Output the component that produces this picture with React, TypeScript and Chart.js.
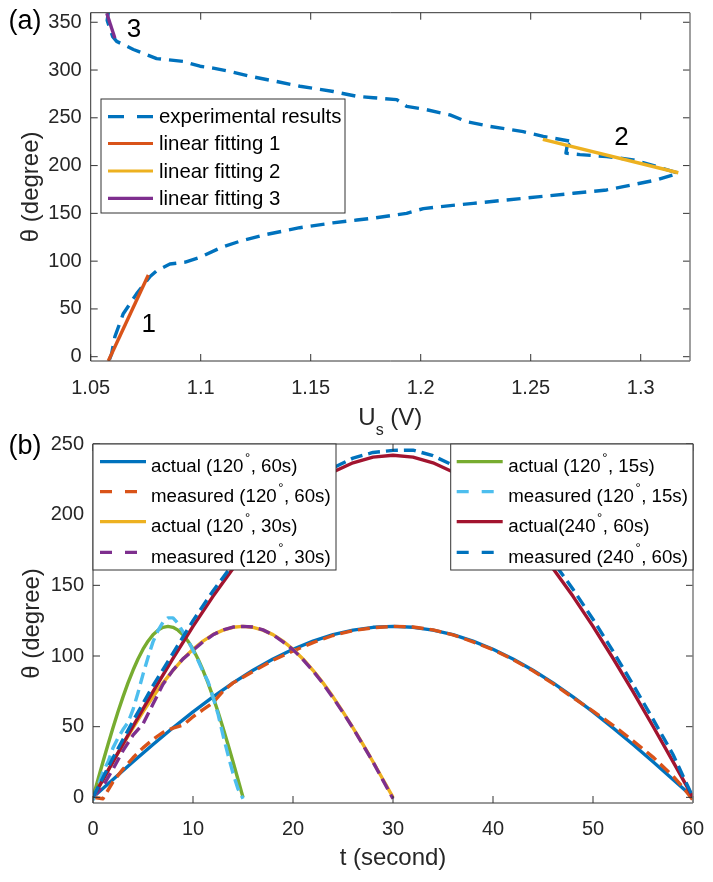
import React, { useEffect, useRef } from 'react';
import { Chart, registerables } from 'chart.js';

Chart.register(...registerables);

const FONT = '"Liberation Sans", Arial, Helvetica, sans-serif';
const AXIS_COLOR = '#333333';
const AXIS_RIGHT_COLOR = '#7f7f7f';
const TEXT_COLOR = '#262626';

const BLUE = '#0072BD';
const ORANGE = '#D95319';
const YELLOW = '#EDB120';
const PURPLE = '#7E2F8E';
const GREEN = '#77AC30';
const LIGHTBLUE = '#4DBEEE';
const DARKRED = '#A2142F';

// ---------------- Panel (a) data ----------------
const aXTicks = [1.05, 1.1, 1.15, 1.2, 1.25, 1.3];
const aXTickLabels = ['1.05', '1.1', '1.15', '1.2', '1.25', '1.3'];
const aYTicks = [0, 50, 100, 150, 200, 250, 300, 350];
const aYTickLabels = ['0', '50', '100', '150', '200', '250', '300', '350'];

const expU = [
  1.0585, 1.0595, 1.061, 1.0648, 1.0709, 1.077, 1.08, 1.086, 1.093, 1.0997,
  1.109, 1.118, 1.13, 1.145, 1.16, 1.171, 1.1785, 1.1936, 1.2012, 1.2088,
  1.2239, 1.2391, 1.2542, 1.2694, 1.2845, 1.2921, 1.3073, 1.3171, 1.3073, 1.2966,
  1.2845, 1.2724, 1.266, 1.2665, 1.2694, 1.2557, 1.2466, 1.2315, 1.2209, 1.2133,
  1.2027, 1.1936, 1.1891, 1.1785, 1.1709, 1.1603, 1.1451, 1.1345, 1.1224, 1.1133,
  1.1057, 1.0997, 1.0921, 1.08, 1.0694, 1.0618, 1.06, 1.0585, 1.0575, 1.058,
];
const expTheta = [
  -3, 3, 21, 45, 66, 84, 90, 97, 99, 104,
  114, 121, 128, 135, 140, 143, 145, 150, 155, 157,
  160.5, 164, 167.5, 171, 174.5, 178, 185, 192, 199, 206,
  209.5, 211.5, 213, 220, 225, 230.5, 235.5, 241, 246, 253,
  258.5, 262, 269, 271, 272.5, 277.5, 283, 288, 293.5, 298.5,
  302, 304, 309, 312, 321.5, 330, 335, 345, 352, 360,
];
const fit1U = [1.058, 1.0762];
const fit1Theta = [-4.5, 85.5];
const fit2U = [1.2555, 1.3171];
const fit2Theta = [227.5, 192.5];
const fit3U = [1.061, 1.0573];
const fit3Theta = [333.2, 359.4];

const aSeriesLabels = ['experimental results', 'linear fitting 1', 'linear fitting 2', 'linear fitting 3'];
const aNoteText = ['1', '2', '3'];
const aNoteU = [1.0764, 1.2913, 1.0697];
const aNoteTheta = [33.2, 228.9, 341.9];

// ---------------- Panel (b) data ----------------
const bXTicks = [0, 10, 20, 30, 40, 50, 60];
const bXTickLabels = ['0', '10', '20', '30', '40', '50', '60'];
const bYTicks = [0, 50, 100, 150, 200, 250];
const bYTickLabels = ['0', '50', '100', '150', '200', '250'];

const t60 = [0, 2, 4, 6, 8, 10, 12, 14, 16, 18, 20, 22, 24, 26, 28, 30, 32, 34, 36, 38, 40, 42, 44, 46, 48, 50, 52, 54, 56, 58, 60];
const actual60 = [0, 12.6, 25.2, 37.4, 49.2, 60.5, 71.1, 81, 89.9, 97.9, 104.8, 110.5, 115.1, 118.3, 120.3, 121, 120.3, 118.3, 115.1, 110.5, 104.8, 97.9, 89.9, 81, 71.1, 60.5, 49.2, 37.4, 25.2, 12.6, 0];

const measured60T = [0, 1, 2, 3, 4, 5, 6, 7, 8, 9, 10, 11, 12, 13, 14, 16, 18, 20, 22, 24, 26, 28, 30, 32, 34, 36, 38, 40, 42, 44, 46, 48, 50, 52, 54, 56, 58, 59, 60];
const measured60 = [0, -1, 11, 20, 28, 35, 41, 46, 49, 51, 57, 62, 67, 75, 81, 89, 97, 103.5, 109.5, 114.5, 118, 120, 121, 120.5, 118.5, 115, 110, 104.5, 97.5, 89.5, 80.5, 70.5, 61, 51, 40, 28.5, 15, 7, -2];

const t30 = [0, 1, 2, 3, 4, 5, 6, 7, 8, 9, 10, 11, 12, 13, 14, 15, 16, 17, 18, 19, 20, 21, 22, 23, 24, 25, 26, 27, 28, 29, 30];
const actual30 = [0, 12.6, 25.2, 37.4, 49.2, 60.5, 71.1, 81, 89.9, 97.9, 104.8, 110.5, 115.1, 118.3, 120.3, 121, 120.3, 118.3, 115.1, 110.5, 104.8, 97.9, 89.9, 81, 71.1, 60.5, 49.2, 37.4, 25.2, 12.6, 0];
const measured30 = [0, 8, 20, 33, 44, 52, 66, 80, 90, 98, 104, 110, 115, 118.5, 120.5, 121, 120.5, 118.5, 115, 110, 104.5, 97.5, 89.5, 80.5, 70.5, 60, 49, 37, 25, 12, -1];

const t15 = [0, 0.5, 1, 1.5, 2, 2.5, 3, 3.5, 4, 4.5, 5, 5.5, 6, 6.5, 7, 7.5, 8, 8.5, 9, 9.5, 10, 10.5, 11, 11.5, 12, 12.5, 13, 13.5, 14, 14.5, 15];
const actual15 = [0, 12.6, 25.2, 37.4, 49.2, 60.5, 71.1, 81, 89.9, 97.9, 104.8, 110.5, 115.1, 118.3, 120.3, 121, 120.3, 118.3, 115.1, 110.5, 104.8, 97.9, 89.9, 81, 71.1, 60.5, 49.2, 37.4, 25.2, 12.6, 0];
const measured15 = [-2, 8, 18, 25, 35, 42, 48, 53, 62, 74, 87, 99, 110, 118, 124, 127, 127, 123, 117, 111, 104, 97, 89, 82, 71, 59, 44, 30, 17, 6, -1];

const actual240 = [0, 25.3, 50.3, 74.8, 98.4, 121, 142.2, 161.9, 179.8, 195.8, 209.6, 221.1, 230.2, 236.7, 240.7, 242, 240.7, 236.7, 230.2, 221.1, 209.6, 195.8, 179.8, 161.9, 142.2, 121, 98.4, 74.8, 50.3, 25.3, 0];
const measured240 = [0, 28, 54, 79, 102, 125, 146, 165, 182, 198, 212, 224, 233, 240, 244, 245.5, 245.7, 241.7, 235, 226, 214.6, 200.8, 184.9, 166.9, 147.2, 126, 103.4, 79.8, 55.3, 30.3, 0];

const bSeriesLabels = [
  'actual (120°, 60s)',
  'measured (120°, 60s)',
  'actual (120°, 30s)',
  'measured (120°, 30s)',
  'actual (120°, 15s)',
  'measured (120°, 15s)',
  'actual(240°, 60s)',
  'measured (240°, 60s)',
];

const pts = (xs: number[], ys: number[]) => xs.map((x, i) => ({ x, y: ys[i] }));

function lineDs(label: string, xs: number[], ys: number[], color: string, dash: number[], order: number) {
  return {
    label,
    data: pts(xs, ys),
    borderColor: color,
    backgroundColor: color,
    borderWidth: 3.4,
    borderDash: dash,
    borderCapStyle: 'butt',
    borderJoinStyle: 'round',
    pointRadius: 0,
    fill: false,
    tension: 0,
    order,
  };
}

function drawLabelWithDegree(ctx: any, text: string, x: number, y: number, size: number) {
  const parts = text.split('°');
  ctx.textAlign = 'left';
  ctx.textBaseline = 'middle';
  let cx = x;
  parts.forEach((p, i) => {
    ctx.font = `${size}px ${FONT}`;
    ctx.fillText(p, cx, y);
    cx += ctx.measureText(p).width;
    if (i < parts.length - 1) {
      cx += 1.5;
      ctx.font = `${Math.round(size * 0.72)}px ${FONT}`;
      ctx.fillText('°', cx, y - 9);
      cx += ctx.measureText('°').width + 0.5;
    }
  });
}

function drawLegend(ctx: any, chart: any, lg: any) {
  const [x0, y0, x1, y1] = lg.box;
  ctx.save();
  ctx.fillStyle = '#ffffff';
  ctx.fillRect(x0, y0, x1 - x0, y1 - y0);
  ctx.strokeStyle = AXIS_COLOR;
  ctx.lineWidth = 1;
  ctx.setLineDash([]);
  ctx.strokeRect(x0, y0, x1 - x0, y1 - y0);
  lg.datasets.forEach((di: number, r: number) => {
    const ds = chart.data.datasets[di];
    const y = lg.rows[r];
    ctx.strokeStyle = ds.borderColor;
    ctx.lineWidth = 3.2;
    ctx.lineCap = 'butt';
    ctx.setLineDash(ds.borderDash && ds.borderDash.length ? lg.dash : []);
    ctx.beginPath();
    ctx.moveTo(lg.sx[0], y);
    ctx.lineTo(lg.sx[1], y);
    ctx.stroke();
    ctx.setLineDash([]);
    ctx.fillStyle = '#000000';
    drawLabelWithDegree(ctx, ds.label, lg.tx, y + lg.textDY, lg.font);
  });
  ctx.restore();
}

function makeFramePlugin(cfg: any) {
  return {
    id: 'matlabFrame',
    afterDraw(chart: any) {
      const ctx = chart.ctx;
      const { left, right, top, bottom } = chart.chartArea;
      const xs = chart.scales.x;
      const ys = chart.scales.y;
      const TL = 7;
      ctx.save();
      ctx.strokeStyle = AXIS_COLOR;
      ctx.lineWidth = 1;
      ctx.setLineDash([]);
      ctx.beginPath();
      cfg.xTicks.forEach((v: number) => {
        const p = xs.getPixelForValue(v);
        ctx.moveTo(p, bottom);
        ctx.lineTo(p, bottom - TL);
        ctx.moveTo(p, top);
        ctx.lineTo(p, top + TL);
      });
      cfg.yTicks.forEach((v: number) => {
        const p = ys.getPixelForValue(v);
        ctx.moveTo(left, p);
        ctx.lineTo(left + TL, p);
        ctx.moveTo(right, p);
        ctx.lineTo(right - TL, p);
      });
      ctx.moveTo(left, top);
      ctx.lineTo(right, top);
      ctx.moveTo(left, top);
      ctx.lineTo(left, bottom);
      ctx.lineTo(right, bottom);
      ctx.stroke();
      ctx.strokeStyle = AXIS_RIGHT_COLOR;
      ctx.lineWidth = 1.5;
      ctx.beginPath();
      ctx.moveTo(right, top);
      ctx.lineTo(right, bottom);
      ctx.stroke();

      // annotations in data coordinates
      if (cfg.notes) {
        ctx.fillStyle = '#000000';
        ctx.font = `26px ${FONT}`;
        ctx.textAlign = 'center';
        ctx.textBaseline = 'middle';
        cfg.notes.text.forEach((t: string, i: number) => {
          ctx.fillText(t, xs.getPixelForValue(cfg.notes.x[i]), ys.getPixelForValue(cfg.notes.y[i]));
        });
      }

      cfg.legends.forEach((lg: any) => drawLegend(ctx, chart, lg));

      // panel tag
      ctx.fillStyle = '#000000';
      ctx.font = `27px ${FONT}`;
      ctx.textAlign = 'center';
      ctx.textBaseline = 'middle';
      ctx.fillText(cfg.tag, cfg.tagPos[0], cfg.tagPos[1]);

      // y title
      ctx.fillStyle = TEXT_COLOR;
      ctx.save();
      ctx.translate(cfg.yTitlePos[0], (top + bottom) / 2);
      ctx.rotate(-Math.PI / 2);
      ctx.font = `24px ${FONT}`;
      ctx.textAlign = 'center';
      ctx.textBaseline = 'middle';
      ctx.fillText(cfg.yTitle, 0, 0);
      ctx.restore();

      // x title (with optional subscript)
      const cx = (left + right) / 2;
      const cy = cfg.xTitleY;
      ctx.textBaseline = 'middle';
      ctx.textAlign = 'left';
      const segs = cfg.xTitle as { t: string; sub?: boolean }[];
      let total = 0;
      segs.forEach((s) => {
        ctx.font = `${s.sub ? 16 : 24}px ${FONT}`;
        total += ctx.measureText(s.t).width;
      });
      let x = cx - total / 2;
      segs.forEach((s) => {
        ctx.font = `${s.sub ? 16 : 24}px ${FONT}`;
        ctx.fillText(s.t, x, s.sub ? cy + 13 : cy);
        x += ctx.measureText(s.t).width;
      });
      ctx.restore();
    },
  };
}

function axisOpts(min: number, max: number, ticks: number[], labels: string[], pad: number, fit: (s: any) => void) {
  return {
    type: 'linear',
    min,
    max,
    grid: { display: false, drawTicks: false },
    border: { display: false },
    afterBuildTicks: (s: any) => {
      s.ticks = ticks.map((v) => ({ value: v }));
    },
    afterFit: (s: any) => {
      fit(s);
      s.paddingLeft = 0;
      s.paddingRight = 0;
      s.paddingTop = 0;
      s.paddingBottom = 0;
    },
    ticks: {
      autoSkip: false,
      maxRotation: 0,
      minRotation: 0,
      padding: pad,
      color: TEXT_COLOR,
      font: { size: 20, family: FONT },
      callback: (_v: any, i: number) => labels[i],
    },
  };
}

export default function App() {
  const refA = useRef<HTMLCanvasElement | null>(null);
  const refB = useRef<HTMLCanvasElement | null>(null);

  useEffect(() => {
    const chartA = new Chart(refA.current as HTMLCanvasElement, {
      type: 'line',
      data: {
        datasets: [
          lineDs(aSeriesLabels[0], expU, expTheta, BLUE, [14, 8], 4),
          lineDs(aSeriesLabels[1], fit1U, fit1Theta, ORANGE, [], 3),
          lineDs(aSeriesLabels[2], fit2U, fit2Theta, YELLOW, [], 2),
          lineDs(aSeriesLabels[3], fit3U, fit3Theta, PURPLE, [], 1),
        ],
      } as any,
      options: {
        responsive: false,
        animation: false,
        events: [],
        layout: { padding: { left: 0, right: 23, top: 12.7, bottom: 0 } },
        plugins: { legend: { display: false }, tooltip: { enabled: false } },
        scales: {
          x: axisOpts(1.05, 1.3224, aXTicks, aXTickLabels, 15, (s: any) => { s.height = 79; }),
          y: axisOpts(-4.5, 360, aYTicks, aYTickLabels, 9, (s: any) => { s.width = 90.7; }),
        },
      } as any,
      plugins: [
        makeFramePlugin({
          xTicks: aXTicks,
          yTicks: aYTicks,
          notes: { text: aNoteText, x: aNoteU, y: aNoteTheta },
          legends: [
            { box: [101, 99, 345, 213], rows: [116.7, 143.5, 171, 198.3], sx: [108, 153], tx: 159, font: 20.4, textDY: 1, dash: [16, 13], datasets: [0, 1, 2, 3] },
          ],
          tag: '(a)',
          tagPos: [25, 22],
          yTitle: 'θ (degree)',
          yTitlePos: [31],
          xTitle: [{ t: 'U' }, { t: 's', sub: true }, { t: ' (V)' }],
          xTitleY: 418,
        }) as any,
      ],
    });

    const chartB = new Chart(refB.current as HTMLCanvasElement, {
      type: 'line',
      data: {
        datasets: [
          lineDs(bSeriesLabels[0], t60, actual60, BLUE, [], 8),
          lineDs(bSeriesLabels[1], measured60T, measured60, ORANGE, [12, 6], 7),
          lineDs(bSeriesLabels[2], t30, actual30, YELLOW, [], 6),
          lineDs(bSeriesLabels[3], t30, measured30, PURPLE, [12, 6], 5),
          lineDs(bSeriesLabels[4], t15, actual15, GREEN, [], 4),
          lineDs(bSeriesLabels[5], t15, measured15, LIGHTBLUE, [12, 6], 3),
          lineDs(bSeriesLabels[6], t60, actual240, DARKRED, [], 2),
          lineDs(bSeriesLabels[7], t60, measured240, BLUE, [12, 6], 1),
        ],
      } as any,
      options: {
        responsive: false,
        animation: false,
        events: [],
        layout: { padding: { left: 0, right: 20, top: 24, bottom: 0 } },
        plugins: { legend: { display: false }, tooltip: { enabled: false } },
        scales: {
          x: axisOpts(0, 60, bXTicks, bXTickLabels, 14, (s: any) => { s.height = 79; }),
          y: axisOpts(-4, 250, bYTicks, bYTickLabels, 9, (s: any) => { s.width = 93; }),
        },
      } as any,
      plugins: [
        makeFramePlugin({
          xTicks: bXTicks,
          yTicks: bYTicks,
          legends: [
            { box: [93, 24, 336, 150], rows: [41.7, 71.7, 101.7, 132.3], sx: [100, 146], tx: 151, font: 18.7, textDY: 5.5, dash: [12, 13], datasets: [0, 1, 2, 3] },
            { box: [450.7, 24, 693, 150], rows: [41.7, 71.7, 101.7, 132.3], sx: [456.7, 502.7], tx: 508.3, font: 18.7, textDY: 5.5, dash: [12, 13], datasets: [4, 5, 6, 7] },
          ],
          tag: '(b)',
          tagPos: [25, 27],
          yTitle: 'θ (degree)',
          yTitlePos: [32],
          xTitle: [{ t: 't (second)' }],
          xTitleY: 438,
        }) as any,
      ],
    });

    return () => {
      chartA.destroy();
      chartB.destroy();
    };
  }, []);

  return (
    <div style={{ position: 'absolute', left: 0, top: 0, width: 713, height: 882, background: '#ffffff' }}>
      <canvas ref={refA} width={713} height={440} style={{ position: 'absolute', left: 0, top: 0, width: 713, height: 440 }} />
      <canvas ref={refB} width={713} height={462} style={{ position: 'absolute', left: 0, top: 420, width: 713, height: 462 }} />
    </div>
  );
}
